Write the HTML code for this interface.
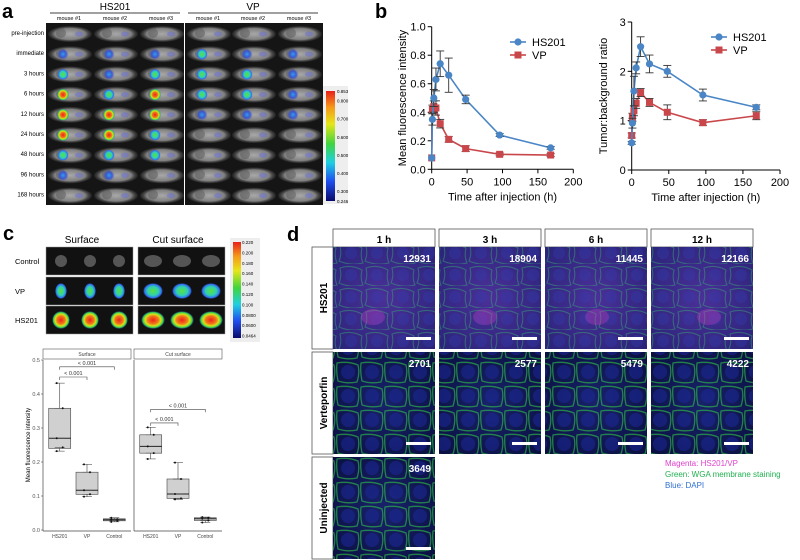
<!DOCTYPE html>
<html><head><meta charset="utf-8"><style>
html,body{margin:0;padding:0;background:#fff}
svg{display:block;font-family:"Liberation Sans",Arial,sans-serif}
</style></head><body>
<svg id="fig" width="800" height="560" viewBox="0 0 800 560" xmlns="http://www.w3.org/2000/svg">
<defs>
<linearGradient id="cbar" x1="0" y1="0" x2="0" y2="1">
<stop offset="0" stop-color="#e8201a"/><stop offset="0.15" stop-color="#f59a1a"/><stop offset="0.3" stop-color="#e6e61a"/><stop offset="0.48" stop-color="#3fd43f"/><stop offset="0.65" stop-color="#1fd0e0"/><stop offset="0.82" stop-color="#1f4ff0"/><stop offset="1" stop-color="#0a0a6a"/>
</linearGradient>
<radialGradient id="spotR"><stop offset="0" stop-color="#f0201a"/><stop offset="0.45" stop-color="#f07a1a"/><stop offset="0.65" stop-color="#d8e21a"/><stop offset="0.85" stop-color="#30d050"/><stop offset="1" stop-color="#3060f0" stop-opacity="0"/></radialGradient>
<radialGradient id="spotG"><stop offset="0" stop-color="#58e040"/><stop offset="0.55" stop-color="#30d0b0"/><stop offset="0.85" stop-color="#3070f0"/><stop offset="1" stop-color="#3050f0" stop-opacity="0"/></radialGradient>
<radialGradient id="spotB"><stop offset="0" stop-color="#30a0f0"/><stop offset="0.6" stop-color="#3050e0" stop-opacity="0.8"/><stop offset="1" stop-color="#3040d0" stop-opacity="0"/></radialGradient>
<radialGradient id="mouse"><stop offset="0" stop-color="#a8a8a8"/><stop offset="0.7" stop-color="#808080"/><stop offset="1" stop-color="#404040" stop-opacity="0.3"/></radialGradient>
<radialGradient id="hsCell" cx="0.5" cy="0.5" r="0.7"><stop offset="0" stop-color="#4a3098"/><stop offset="1" stop-color="#2a2478"/></radialGradient>
<radialGradient id="vpCell" cx="0.5" cy="0.5" r="0.7"><stop offset="0" stop-color="#18226a"/><stop offset="1" stop-color="#0a1040"/></radialGradient>
<pattern id="membrane" width="26" height="22" patternUnits="userSpaceOnUse">
<path d="M2 4 Q13 0 24 6 Q22 14 25 21 Q12 24 1 19 Q4 12 2 4Z" fill="none" stroke="#38c070" stroke-width="1.1" opacity="0.8"/>
<circle cx="13" cy="11" r="6" fill="#3040b8" opacity="0.6"/>
</pattern>
<pattern id="membrane2" width="24" height="24" patternUnits="userSpaceOnUse">
<path d="M1 3 Q12 1 22 5 Q24 13 21 22 Q11 24 2 21 Q0 12 1 3Z" fill="none" stroke="#30c848" stroke-width="1.3" opacity="0.85"/>
<circle cx="12" cy="12" r="7" fill="#1c2aa0" opacity="0.7"/>
</pattern>
</defs>
<g id="panelA"></g>
<g id="panelB"></g>
<g id="panelC"></g>
<g id="panelD"></g>
</svg>
<script>
// ---------- Panel b data ----------
const times = [0, 1, 3, 6, 12, 24, 48, 96, 168];
const mfiHS = [0.08, 0.35, 0.50, 0.63, 0.74, 0.66, 0.49, 0.24, 0.15];
const mfiHSErr = [0.0, 0.04, 0.06, 0.08, 0.09, 0.12, 0.03, 0.01, 0.01];
const mfiVP = [0.08, 0.42, 0.44, 0.43, 0.32, 0.21, 0.145, 0.105, 0.10];
const mfiVPErr = [0.0, 0.03, 0.04, 0.05, 0.03, 0.02, 0.02, 0.01, 0.01];
const tbrHS = [0.55, 0.95, 1.60, 2.07, 2.50, 2.15, 2.00, 1.52, 1.27];
const tbrHSErr = [0.03, 0.10, 0.30, 0.12, 0.20, 0.18, 0.12, 0.12, 0.05];
const tbrVP = [0.70, 1.07, 1.20, 1.35, 1.57, 1.37, 1.17, 0.96, 1.10];
const tbrVPErr = [0.05, 0.08, 0.10, 0.10, 0.08, 0.08, 0.15, 0.06, 0.08];
const xTicks = [0, 50, 100, 150, 200];
const mfiTicks = ["0.0", "0.2", "0.4", "0.6", "0.8", "1.0"];
const tbrTicks = ["0", "1", "2", "3"];
// ---------- Panel c data ----------
const boxGroups = ["HS201", "VP", "Control"];
const surfQ = [[0.232, 0.24, 0.27, 0.358, 0.432], [0.098, 0.105, 0.117, 0.17, 0.193], [0.024, 0.027, 0.030, 0.033, 0.036]];
const cutQ = [[0.209, 0.226, 0.246, 0.28, 0.302], [0.090, 0.093, 0.106, 0.15, 0.198], [0.022, 0.028, 0.033, 0.036, 0.038]];
const surfPts = [[0.432, 0.358, 0.27, 0.243, 0.232], [0.193, 0.17, 0.117, 0.105, 0.098], [0.036, 0.032, 0.030, 0.027, 0.024]];
const cutPts = [[0.302, 0.28, 0.246, 0.226, 0.209], [0.198, 0.15, 0.106, 0.093, 0.090], [0.038, 0.036, 0.033, 0.028, 0.022]];
const boxTicks = ["0.0", "0.1", "0.2", "0.3", "0.4", "0.5"];
// ---------- Panel d data ----------
const dCols = ["1 h", "3 h", "6 h", "12 h"];
const dRows = ["HS201", "Verteporfin", "Uninjected"];
const hsNums = ["12931", "18904", "11445", "12166"];
const vpNums = ["2701", "2577", "5479", "4222"];
const unNum = "3649";

const NS = "http://www.w3.org/2000/svg";
function mk(parent, tag, attrs, text) {
  const e = document.createElementNS(NS, tag);
  for (const k in attrs) e.setAttribute(k, attrs[k]);
  if (text !== undefined) e.textContent = text;
  parent.appendChild(e);
  return e;
}

// ================= Panel A =================
const A = document.getElementById('panelA');
let t = mk(A, 'text', {x: 2, y: 18, 'font-size': 20, 'font-weight': 'bold'}, 'a');


const aGroups = [["HS201", 50, 180], ["VP", 188, 318]];
aGroups.forEach(g => {
  let e = mk(A, 'text', {x: (g[1] + g[2]) / 2, y: 10, 'font-size': 10, 'text-anchor': 'middle'}, g[0]);
  
  
  mk(A, 'line', {x1: g[1], x2: g[2], y1: 13, y2: 13, stroke: '#000', 'stroke-width': 0.8});
});
const aColX = [47, 93, 139, 186, 231, 277];
const mouseLabels = ["mouse #1", "mouse #2", "mouse #3", "mouse #1", "mouse #2", "mouse #3"];
aColX.forEach((x, i) => {
  let e = mk(A, 'text', {x: x + 22, y: 20, 'font-size': 5.5, 'text-anchor': 'middle'}, mouseLabels[i]);
  
  
});
const rowLabels = ["pre-injection", "immediate", "3 hours", "6 hours", "12 hours", "24 hours", "48 hours", "96 hours", "168 hours"];
const spots = [
  [0,0,0,0,0,0],[1,1,1,2,1,1],[2,1,2,2,2,1],[3,2,3,2,2,1],[3,3,3,1,1,1],[3,3,2,0,0,0],[2,2,2,0,0,0],[1,1,0,0,0,0],[0,0,0,0,0,0]];
mk(A, 'rect', {x: 46, y: 23, width: 277, height: 182, fill: '#151515'});
rowLabels.forEach((lab, r) => {
  const y = 23 + r * 20.2;
  let e = mk(A, 'text', {x: 44, y: y + 12, 'font-size': 6, 'text-anchor': 'end'}, lab);
  
  
  aColX.forEach((x, c) => {
    const g = mk(A, 'g', {});
    
    
    mk(g, 'ellipse', {cx: x + 23, cy: y + 11, rx: 22, ry: 8, fill: 'url(#mouse)'});
    mk(g, 'circle', {cx: x + 14, cy: y + 10, r: 5, fill: '#5a5a5a', opacity: 0.5});
    mk(g, 'ellipse', {cx: x + 32, cy: y + 11, rx: 4, ry: 2.5, fill: '#6a70d8', opacity: 0.5});
    const s = spots[r][c];
    if (s) mk(g, 'circle', {cx: x + 16, cy: y + 11, r: s === 3 ? 6 : 5.5, fill: s === 3 ? 'url(#spotR)' : s === 2 ? 'url(#spotG)' : 'url(#spotB)'});
  });
});
mk(A, 'line', {x1: 184.5, x2: 184.5, y1: 23, y2: 205, stroke: '#fff', 'stroke-width': 1});
mk(A, 'rect', {x: 323, y: 86, width: 25, height: 118, fill: '#eee'});
let cb = mk(A, 'rect', {x: 326, y: 91, width: 9, height: 110, fill: 'url(#cbar)'});


const aCbLabels = ["0.853", "0.800", "0.700", "0.600", "0.500", "0.400", "0.300", "0.246"];
const aCbVals = [0.853, 0.800, 0.700, 0.600, 0.500, 0.400, 0.300, 0.246];
aCbVals.forEach((v, i) => {
  const y = 91 + (0.853 - v) / (0.853 - 0.246) * 110;
  mk(A, 'text', {x: 337, y: y + 2, 'font-size': 4.5}, aCbLabels[i]);
});

// ================= Panel B =================
const B = document.getElementById('panelB');
t = mk(B, 'text', {x: 375, y: 18, 'font-size': 20, 'font-weight': 'bold'}, 'b');


const HSC = '#4a86c5', VPC = '#c9474a';
function lineChart(cfg) {
  const g = mk(B, 'g', {});
  
  
  const X = v => cfg.x0 + (v / 200) * (cfg.x1 - cfg.x0);
  const Y = v => cfg.y0 - (v / cfg.ymax) * (cfg.y0 - cfg.y1);
  mk(g, 'line', {x1: cfg.x0, x2: cfg.x0, y1: cfg.y1, y2: cfg.y0, stroke: '#000', 'stroke-width': 1});
  mk(g, 'line', {x1: cfg.x0, x2: cfg.x1, y1: cfg.y0, y2: cfg.y0, stroke: '#000', 'stroke-width': 1});
  cfg.yticks.forEach(lab => {
    const y = Y(parseFloat(lab));
    mk(g, 'line', {x1: cfg.x0 - 4, x2: cfg.x0, y1: y, y2: y, stroke: '#000'});
    const e = mk(g, 'text', {x: cfg.x0 - 6, y: y + 4, 'font-size': 11, 'text-anchor': 'end'}, lab);
    
    
  });
  xTicks.forEach(v => {
    const x = X(v);
    mk(g, 'line', {x1: x, x2: x, y1: cfg.y0, y2: cfg.y0 + 4, stroke: '#000'});
    const e = mk(g, 'text', {x: x, y: cfg.y0 + 16, 'font-size': 11, 'text-anchor': 'middle'}, String(v));
    
    
  });
  let e = mk(g, 'text', {x: (cfg.x0 + cfg.x1) / 2, y: cfg.y0 + 31, 'font-size': 11, 'text-anchor': 'middle'}, 'Time after injection (h)');
  
  
  const yc = (cfg.y0 + cfg.y1) / 2;
  e = mk(g, 'text', {x: cfg.ytx, y: yc, 'font-size': 11, 'text-anchor': 'middle', transform: `rotate(-90 ${cfg.ytx} ${yc})`}, cfg.ytitle);
  
  
  [[cfg.vp, cfg.vpE, VPC, 'sq', 'series-vp'], [cfg.hs, cfg.hsE, HSC, 'ci', 'series-hs201']].forEach(s => {
    const sg = mk(g, 'g', {});
    
    
    const pts = times.map((tm, i) => X(tm) + ',' + Y(s[0][i])).join(' ');
    mk(sg, 'polyline', {points: pts, fill: 'none', stroke: s[2], 'stroke-width': 1.6});
    times.forEach((tm, i) => {
      const x = X(tm), y = Y(s[0][i]), eh = s[1][i];
      if (eh > 0) {
        mk(sg, 'line', {x1: x, x2: x, y1: Y(s[0][i] + eh), y2: Y(s[0][i] - eh), stroke: '#333', 'stroke-width': 0.9});
        mk(sg, 'line', {x1: x - 4, x2: x + 4, y1: Y(s[0][i] + eh), y2: Y(s[0][i] + eh), stroke: '#333', 'stroke-width': 0.9});
        mk(sg, 'line', {x1: x - 4, x2: x + 4, y1: Y(s[0][i] - eh), y2: Y(s[0][i] - eh), stroke: '#333', 'stroke-width': 0.9});
      }
      let m;
      if (s[3] === 'ci') m = mk(sg, 'circle', {cx: x, cy: y, r: 3.6, fill: s[2]});
      else m = mk(sg, 'rect', {x: x - 3.5, y: y - 3.5, width: 7, height: 7, fill: s[2]});
      
      
    });
  });
  [['HS201', HSC, 'ci', cfg.ly], ['VP', VPC, 'sq', cfg.ly + 13]].forEach(l => {
    const lg = mk(g, 'g', {});
    
    
    mk(lg, 'line', {x1: cfg.lx - 8, x2: cfg.lx + 8, y1: l[3], y2: l[3], stroke: l[1], 'stroke-width': 1.6});
    if (l[2] === 'ci') mk(lg, 'circle', {cx: cfg.lx, cy: l[3], r: 3.6, fill: l[1]});
    else mk(lg, 'rect', {x: cfg.lx - 3.5, y: l[3] - 3.5, width: 7, height: 7, fill: l[1]});
    mk(lg, 'text', {x: cfg.lx + 14, y: l[3] + 4, 'font-size': 11}, l[0]);
  });
}
lineChart({name: 'chart-mfi', x0: 431.7, x1: 573.3, y0: 169.3, y1: 26.7, ymax: 1.0, yticks: mfiTicks, ytitle: 'Mean fluorescence intensity', ytx: 406, hs: mfiHS, hsE: mfiHSErr, vp: mfiVP, vpE: mfiVPErr, lx: 518, ly: 42});
lineChart({name: 'chart-tbr', x0: 631.7, x1: 780, y0: 170, y1: 22, ymax: 3.0, yticks: tbrTicks, ytitle: 'Tumor:background ratio', ytx: 607, hs: tbrHS, hsE: tbrHSErr, vp: tbrVP, vpE: tbrVPErr, lx: 719, ly: 37});

// ================= Panel C =================
const C = document.getElementById('panelC');
t = mk(C, 'text', {x: 3, y: 240, 'font-size': 20, 'font-weight': 'bold'}, 'c');


[['Surface', 82], ['Cut surface', 178]].forEach(h => {
  const e = mk(C, 'text', {x: h[1], y: 243, 'font-size': 10, 'text-anchor': 'middle'}, h[0]);
  
  
});
const cRows = ['Control', 'VP', 'HS201'];
const cRowY = [247, 277, 306];
cRows.forEach((lab, r) => {
  const e = mk(C, 'text', {x: 15, y: cRowY[r] + 17, 'font-size': 7.5}, lab);
  
  
  [46, 138].forEach((bx, bi) => {
    const g = mk(C, 'g', {});
    
    
    mk(g, 'rect', {x: bx, y: cRowY[r], width: 87, height: 28, fill: '#111', stroke: '#999', 'stroke-width': 0.5});
    for (let k = 0; k < 3; k++) {
      const cx = bx + 15 + k * 29, cy = cRowY[r] + 14;
      if (r === 0) mk(g, 'ellipse', {cx: cx, cy: cy, rx: bi ? 9 : 6, ry: 6, fill: '#555'});
      else if (r === 1) mk(g, 'ellipse', {cx: cx, cy: cy, rx: bi ? 10 : 6, ry: 8, fill: 'url(#spotG)'});
      else mk(g, 'ellipse', {cx: cx, cy: cy, rx: bi ? 12 : 9, ry: 9, fill: 'url(#spotR)'});
    }
  });
});
mk(C, 'rect', {x: 230, y: 238, width: 30, height: 104, fill: '#eee'});
t = mk(C, 'rect', {x: 233, y: 242, width: 8, height: 96, fill: 'url(#cbar)'});


const cCbLabels = ['0.220', '0.200', '0.180', '0.160', '0.140', '0.120', '0.100', '0.0800', '0.0600', '0.0464'];
cCbLabels.forEach((lab, i) => {
  mk(C, 'text', {x: 242, y: 244 + i * 10.4, 'font-size': 4.5}, lab);
});
const BY = v => 530 - v * 340;
const panels = [[43, 131, 'Surface', surfQ, surfPts], [134, 222, 'Cut surface', cutQ, cutPts]];
const bx = mk(C, 'g', {});


boxTicks.forEach(lab => {
  const y = BY(parseFloat(lab));
  mk(bx, 'line', {x1: 41, x2: 43, y1: y, y2: y, stroke: '#555', 'stroke-width': 0.6});
  const e = mk(bx, 'text', {x: 40, y: y + 2, 'font-size': 5.5, 'text-anchor': 'end', fill: '#555'}, lab);
  
  
});
let yt = mk(bx, 'text', {x: 30, y: 445, 'font-size': 6, 'text-anchor': 'middle', transform: 'rotate(-90 30 445)'}, 'Mean fluorescence intensity');


panels.forEach((p, pi) => {
  const g = mk(bx, 'g', {});
  
  
  mk(g, 'rect', {x: p[0], y: 349, width: p[1] - p[0], height: 10, fill: '#fff', stroke: '#555', 'stroke-width': 0.6});
  mk(g, 'text', {x: (p[0] + p[1]) / 2, y: 356, 'font-size': 5, 'text-anchor': 'middle', fill: '#444'}, p[2]);
  mk(g, 'line', {x1: p[0], x2: p[0], y1: 360, y2: 531, stroke: '#444', 'stroke-width': 0.7});
  mk(g, 'line', {x1: p[0], x2: p[1], y1: 531, y2: 531, stroke: '#444', 'stroke-width': 0.7});
  const w = p[1] - p[0];
  boxGroups.forEach((gn, gi) => {
    const cx = p[0] + w * (0.19 + gi * 0.31);
    mk(g, 'text', {x: cx, y: 538, 'font-size': 5, 'text-anchor': 'middle', fill: '#444'}, gn);
    const q = p[3][gi];
    const bg = mk(g, 'g', {});
    
    
    mk(bg, 'line', {x1: cx, x2: cx, y1: BY(q[0]), y2: BY(q[4]), stroke: '#444', 'stroke-width': 0.6});
    mk(bg, 'rect', {x: cx - 11, y: BY(q[3]), width: 22, height: BY(q[1]) - BY(q[3]), fill: '#d0d0d0', stroke: '#444', 'stroke-width': 0.6});
    mk(bg, 'line', {x1: cx - 11, x2: cx + 11, y1: BY(q[2]), y2: BY(q[2]), stroke: '#222', 'stroke-width': 1});
    p[4][gi].forEach((v, k) => {
      mk(bg, 'line', {x1: cx - 5, x2: cx + 5, y1: BY(v), y2: BY(v), stroke: '#333', 'stroke-width': 0.5});
      mk(bg, 'circle', {cx: cx + (k % 2 ? 3 : -3), cy: BY(v), r: 1, fill: '#111'});
    });
  });
  const brk = pi ? [[0.355, 2], [0.315, 1]] : [[0.48, 2], [0.45, 1]];
  brk.forEach(b => {
    const x1 = p[0] + w * 0.19, x2 = p[0] + w * (0.19 + b[1] * 0.31);
    const y = BY(b[0]);
    const sgg = mk(g, 'g', {});
    
    
    mk(sgg, 'path', {d: `M${x1} ${y + 3}V${y}H${x2}V${y + 3}`, fill: 'none', stroke: '#444', 'stroke-width': 0.6});
    mk(sgg, 'text', {x: (x1 + x2) / 2, y: y - 2, 'font-size': 5.5, 'text-anchor': 'middle', fill: '#333'}, '< 0.001');
  });
});

// ================= Panel D =================
const D = document.getElementById('panelD');
t = mk(D, 'text', {x: 287, y: 241, 'font-size': 20, 'font-weight': 'bold'}, 'd');


const dColX = [333, 439, 545, 651];
const dRowY = [247, 352, 457];
dCols.forEach((c, i) => {
  mk(D, 'rect', {x: dColX[i], y: 229, width: 102, height: 18, fill: '#fff', stroke: '#555', 'stroke-width': 0.8});
  const e = mk(D, 'text', {x: dColX[i] + 51, y: 243, 'font-size': 10, 'font-weight': 'bold', 'text-anchor': 'middle'}, c);
  
  
});
dRows.forEach((r, i) => {
  const y0 = dRowY[i];
  mk(D, 'rect', {x: 312, y: y0, width: 21, height: 102, fill: '#fff', stroke: '#555', 'stroke-width': 0.8});
  const yc = y0 + 51;
  const e = mk(D, 'text', {x: 327, y: yc, 'font-size': 10, 'font-weight': 'bold', 'text-anchor': 'middle', transform: `rotate(-90 327 ${yc})`}, r);
  
  
  const n = i === 2 ? 1 : 4;
  for (let c = 0; c < n; c++) {
    const g = mk(D, 'g', {});
    
    
    const x0 = dColX[c];
    mk(g, 'rect', {x: x0, y: y0, width: 102, height: 102, fill: i === 0 ? 'url(#hsCell)' : 'url(#vpCell)'});
    mk(g, 'rect', {x: x0, y: y0, width: 102, height: 102, fill: i === 0 ? 'url(#membrane)' : 'url(#membrane2)', opacity: i === 0 ? 0.5 : 0.7});
    if (i === 0) mk(g, 'ellipse', {cx: x0 + 40 + c * 6, cy: y0 + 70, rx: 12, ry: 8, fill: '#c040c0', opacity: 0.35});
    const num = i === 0 ? hsNums[c] : i === 1 ? vpNums[c] : unNum;
    const tx = mk(g, 'text', {x: x0 + 98, y: y0 + 15, 'font-size': 10, 'font-weight': 'bold', fill: '#fff', 'text-anchor': 'end'}, num);
    
    
    mk(g, 'rect', {x: x0 + 73, y: y0 + 90, width: 25, height: 3, fill: '#fff'});
  }
});
[['Magenta: HS201/VP', '#e040d0'], ['Green: WGA membrane staining', '#20b050'], ['Blue: DAPI', '#3070d0']].forEach((l, i) => {
  const e = mk(D, 'text', {x: 665, y: 466 + i * 11, 'font-size': 8, fill: l[1]}, l[0]);
  
  
});
</script>
</body></html>
